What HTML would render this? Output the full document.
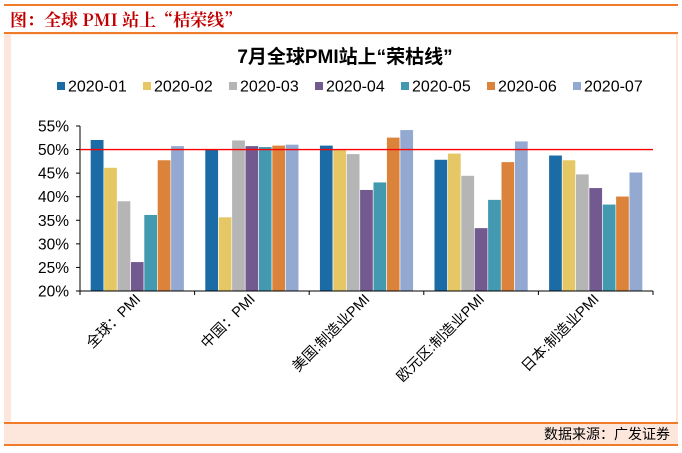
<!DOCTYPE html>
<html><head><meta charset="utf-8"><style>
body{margin:0;width:682px;height:453px;background:#fff;overflow:hidden;position:relative;font-family:"Liberation Sans","Noto Sans CJK SC",sans-serif;}
</style></head><body>
<div style="position:absolute;left:4px;top:4px;width:674px;height:2px;background:#f07c2a"></div>
<div style="position:absolute;left:10px;top:9px;font-family:'Noto Serif CJK SC','Liberation Serif',serif;font-weight:bold;font-size:17px;color:#c00000;line-height:20px">图：全球 PMI 站上“桔荣线”</div>
<div style="position:absolute;left:4px;top:32px;width:674px;height:2px;background:#f07c2a"></div>
<div style="position:absolute;left:4px;top:34px;width:674px;height:388px;background:#fde6dc"></div>
<div style="position:absolute;left:11px;top:35px;width:665px;height:387px;background:#fff"></div>
<div style="position:absolute;left:4px;top:422px;width:674px;height:20px;background:#fde6dc;border-top:2px solid #f07c2a;border-bottom:2px solid #f07c2a"></div>
<div style="position:absolute;right:12px;top:424px;font-size:14px;line-height:20px;color:#000">数据来源：广发证券</div>
<svg id="c" width="682" height="453" style="position:absolute;left:0;top:0"></svg>
<script>
const categories=["全球：PMI","中国：PMI","美国:制造业PMI","欧元区:制造业PMI","日本:制造业PMI"];
const seriesNames=["2020-01","2020-02","2020-03","2020-04","2020-05","2020-06","2020-07"];
const colors=["#1a6ba6","#e5c865","#b5b5b5","#725a90","#4299b0","#dc833b","#93a9d1"];
const s1=[52.1,50.0,50.9,47.9,48.8];
const s2=[46.2,35.7,50.1,49.2,47.8];
const s3=[39.1,52.0,49.1,44.5,44.8];
const s4=[26.2,50.8,41.5,33.4,41.9];
const s5=[36.2,50.6,43.1,39.4,38.4];
const s6=[47.8,50.9,52.6,47.4,40.1];
const s7=[50.8,51.1,54.2,51.8,45.2];
const series=[s1,s2,s3,s4,s5,s6,s7];
const yTicks=[20,25,30,35,40,45,50,55];
const refLine=50;
const svg=document.getElementById('c');const NS='http://www.w3.org/2000/svg';
function el(t,a,p){const e=document.createElementNS(NS,t);for(const k in a)e.setAttribute(k,a[k]);(p||svg).appendChild(e);return e;}
const x0=80,x1=653,yTop=126,yBot=291,yMin=20,yMax=55;
const y=v=>yBot-(v-yMin)/(yMax-yMin)*(yBot-yTop);
const gw=(x1-x0)/categories.length;const bw=13.4;const pad=(gw-bw*7)/2;
let t=el('text',{x:345,y:63,'text-anchor':'middle','font-size':19,'font-weight':'bold'});t.textContent='7月全球PMI站上“荣枯线”';


seriesNames.forEach((n,i)=>{const lx=57+i*86;
const r=el('rect',{x:lx,y:82,width:8,height:8,fill:colors[i]});


const lt=el('text',{x:lx+11,y:91.5,'font-size':16});lt.textContent=n;

});
yTicks.forEach(v=>{const tt=el('text',{x:69,y:y(v)+5.5,'text-anchor':'end','font-size':15.5});tt.textContent=v+'%';


const tk=el('line',{x1:x0-4,x2:x0,y1:y(v),y2:y(v),stroke:'#000'});

});
series.forEach((s,si)=>s.forEach((v,ci)=>{const bx=x0+ci*gw+pad+si*bw;
const b=el('rect',{x:bx,y:y(v),width:bw,height:yBot-y(v),fill:colors[si],stroke:'#fff','stroke-width':0.6});

}));
const ax=el('line',{x1:x0,x2:x0,y1:yTop,y2:yBot,stroke:'#000'});


const xa=el('line',{x1:x0,x2:x1,y1:yBot,y2:yBot,stroke:'#000'});


for(let i=0;i<=categories.length;i++){const tk=el('line',{x1:x0+i*gw,x2:x0+i*gw,y1:yBot,y2:yBot+4,stroke:'#000'});

}
const rl=el('line',{x1:x0,x2:x1,y1:y(refLine),y2:y(refLine),stroke:'#f00','stroke-width':1.3});


categories.forEach((c,i)=>{const cx=x0+i*gw+gw/2+4,cy=300;
const ct=el('text',{x:cx,y:cy,'text-anchor':'end','font-size':14.5,transform:`rotate(-45 ${cx} ${cy})`});ct.textContent=c;

});
</script>
</body></html>
